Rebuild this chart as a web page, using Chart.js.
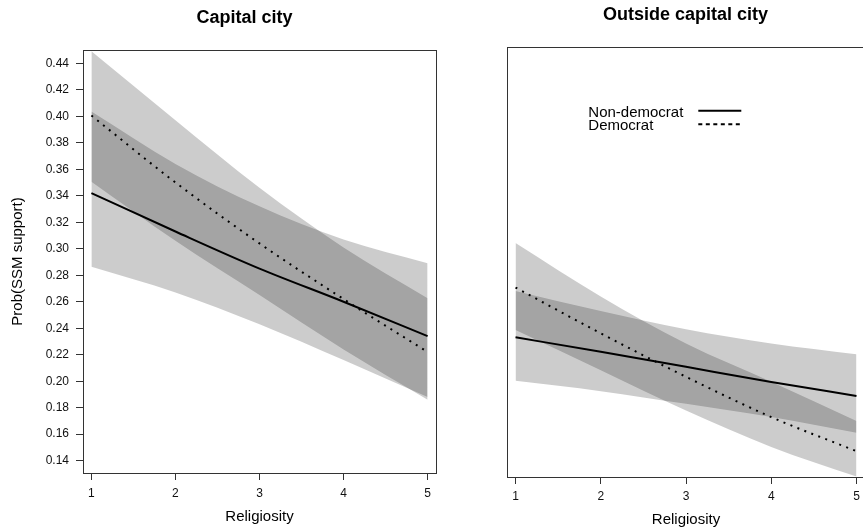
<!DOCTYPE html>
<html>
<head>
<meta charset="utf-8">
<script src="https://cdn.jsdelivr.net/npm/chart.js@4.4.1/dist/chart.umd.min.js"></script>
<style>
    html, body { margin: 0; padding: 0; width: 863px; height: 531px; overflow: hidden; background: #fff; }
    canvas { position: absolute; top: 0; }
    #capitalChart { left: 0; }
    #outsideChart { left: 440px; }
</style>
</head>
<body>
<canvas id="capitalChart" width="440" height="531"></canvas>
<canvas id="outsideChart" width="440" height="531"></canvas>
<script>
/* =========================
   DATA
========================= */

const religiosity = [1, 2, 3, 4, 5];
const yTicks = [0.14, 0.16, 0.18, 0.20, 0.22, 0.24, 0.26, 0.28, 0.30, 0.32, 0.34, 0.36, 0.38, 0.40, 0.42, 0.44];

// Capital city
const capNonDem   = [0.342, 0.313, 0.285, 0.260, 0.234];
const capNonDemLo = [0.2864, 0.267, 0.243, 0.216, 0.188];
const capNonDemHi = [0.4035, 0.364, 0.332, 0.307, 0.289];
const capDem      = [0.4005, 0.350, 0.304, 0.262, 0.222];
const capDemLo    = [0.3506, 0.306, 0.265, 0.224, 0.186];
const capDemHi    = [0.449, 0.397, 0.346, 0.301, 0.2626];

// Outside capital city
const outNonDem   = [0.2344, 0.2237, 0.2125, 0.2013, 0.1909];
const outNonDemLo = [0.2021, 0.1944, 0.185, 0.1752, 0.1636];
const outNonDemHi = [0.2689, 0.254, 0.2404, 0.2299, 0.2219];
const outDem      = [0.2714, 0.2374, 0.2051, 0.1752, 0.1499];
const outDemLo    = [0.2398, 0.2100, 0.180, 0.153, 0.131];
const outDemHi    = [0.3044, 0.2647, 0.2299, 0.2015, 0.1723];

const legendLabels = ['Non-democrat', 'Democrat'];

/* =========================
   HELPERS
========================= */

const FONT = '"Liberation Sans", Arial, Helvetica, sans-serif';
Chart.defaults.font.family = FONT;
Chart.defaults.color = '#111';

const BAND = 'rgba(0,0,0,0.2)';
const AXIS = '#333';

function pts(values){
    return values.map((v, i) => ({ x: religiosity[i], y: v }));
}

function band(hi, lo){
    return [
        {
            data: pts(hi), fill: '+1', backgroundColor: BAND,
            borderColor: 'transparent', borderWidth: 0, pointRadius: 0,
            cubicInterpolationMode: 'monotone'
        },
        {
            data: pts(lo), fill: false,
            borderColor: 'transparent', borderWidth: 0, pointRadius: 0,
            cubicInterpolationMode: 'monotone'
        }
    ];
}

function curve(values, dash){
    return {
        data: pts(values), fill: false,
        borderColor: '#000', borderWidth: 2, borderDash: dash,
        borderCapStyle: 'butt', pointRadius: 0,
        cubicInterpolationMode: 'monotone'
    };
}

/* =========================
   FRAME / TITLE / LEGEND
========================= */

const panelFrame = {
    id: 'panelFrame',
    afterDatasetsDraw(chart, args, opts){
        const { ctx, chartArea: a } = chart;
        ctx.save();

        ctx.strokeStyle = AXIS;
        ctx.lineWidth = 1;
        ctx.strokeRect(a.left + 0.5, a.top + 0.5, a.right - a.left, a.bottom - a.top);

        ctx.fillStyle = '#000';
        ctx.textAlign = 'center';
        ctx.font = 'bold 18px ' + FONT;
        ctx.fillText(opts.title, opts.titleX, opts.titleY);

        if(opts.legend){
            const lg = opts.legend;
            ctx.textAlign = 'left';
            ctx.font = '15px ' + FONT;
            ctx.fillText(legendLabels[0], lg.x, lg.y);
            ctx.fillText(legendLabels[1], lg.x, lg.y + 13.3);

            ctx.strokeStyle = '#000';
            ctx.lineWidth = 2;
            ctx.beginPath();
            ctx.moveTo(lg.lineX, lg.y - 6);
            ctx.lineTo(lg.lineX + 43, lg.y - 6);
            ctx.stroke();

            ctx.setLineDash([4, 3.5]);
            ctx.beginPath();
            ctx.moveTo(lg.lineX, lg.y + 7.6);
            ctx.lineTo(lg.lineX + 43, lg.y + 7.6);
            ctx.stroke();
        }

        ctx.restore();
    }
};

/* =========================
   CHARTS
========================= */

function xScale(height, labelPad, titlePad){
    return {
        type: 'linear',
        min: 0.9,
        max: 5.1,
        afterBuildTicks: s => { s.ticks = religiosity.map(v => ({ value: v })); },
        afterFit: s => { s.height = height; },
        border: { display: false },
        grid: { drawOnChartArea: false, drawTicks: true, tickLength: 7, color: AXIS },
        ticks: { autoSkip: false, maxRotation: 0, padding: labelPad, font: { size: 12 }, color: '#111' },
        title: { display: true, text: 'Religiosity', font: { size: 15 }, color: '#000', padding: { top: 0, bottom: titlePad } }
    };
}

new Chart(document.getElementById('capitalChart'), {
    type: 'line',
    data: {
        datasets: [
            ...band(capDemHi, capDemLo),
            ...band(capNonDemHi, capNonDemLo),
            curve(capNonDem, []),
            curve(capDem, [2, 5.5])
        ]
    },
    options: {
        responsive: false,
        animation: false,
        devicePixelRatio: 1,
        layout: { padding: { top: 50, left: 0, right: 4, bottom: 0 } },
        plugins: {
            legend: { display: false },
            tooltip: { enabled: false },
            panelFrame: { title: 'Capital city', titleX: 244.5, titleY: 23 }
        },
        scales: {
            x: xScale(58, 6.5, 5),
            y: {
                type: 'linear',
                min: 0.1307,
                max: 0.45,
                afterBuildTicks: s => { s.ticks = yTicks.map(v => ({ value: v })); },
                afterFit: s => { s.width = 83; },
                border: { display: false },
                grid: { drawOnChartArea: false, drawTicks: true, tickLength: 7, color: AXIS },
                ticks: {
                    autoSkip: false, padding: 7, font: { size: 12 }, color: '#111',
                    callback: v => v.toFixed(2)
                },
                title: { display: true, text: 'Prob(SSM support)', font: { size: 15 }, color: '#000', padding: { top: 9, bottom: 0 } }
            }
        }
    },
    plugins: [panelFrame]
});

new Chart(document.getElementById('outsideChart'), {
    type: 'line',
    data: {
        datasets: [
            ...band(outDemHi, outDemLo),
            ...band(outNonDemHi, outNonDemLo),
            curve(outNonDem, []),
            curve(outDem, [2, 5.5])
        ]
    },
    options: {
        responsive: false,
        animation: false,
        devicePixelRatio: 1,
        layout: { padding: { top: 47, left: 67, right: 15, bottom: 0 } },
        plugins: {
            legend: { display: false },
            tooltip: { enabled: false },
            panelFrame: {
                title: 'Outside capital city', titleX: 245.5, titleY: 20,
                legend: { x: 148.3, y: 116.7, lineX: 258.3 }
            }
        },
        scales: {
            x: xScale(54, 5, 2),
            y: { type: 'linear', min: 0.1307, max: 0.45, display: false }
        }
    },
    plugins: [panelFrame]
});
</script>
</body>
</html>
